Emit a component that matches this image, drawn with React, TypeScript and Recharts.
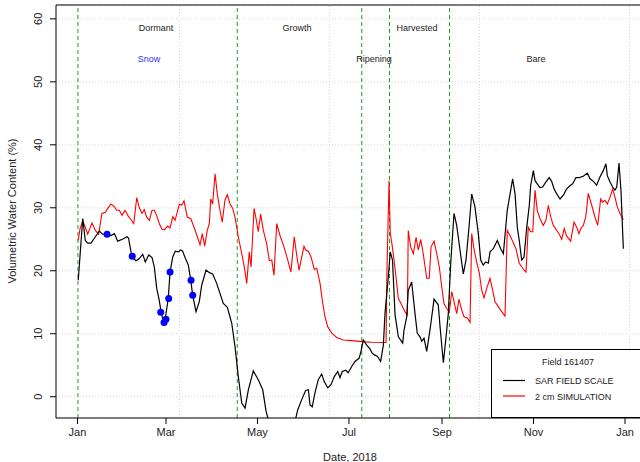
import React from "react";
import {
  ComposedChart,
  Line,
  Scatter,
  XAxis,
  YAxis,
  CartesianGrid,
  ReferenceLine
} from "recharts";

// day of year 2018 (0 = Jan 1) and volumetric water content (%)
const SAR_DAYS = [
  0.5, 3.5, 5.2, 6.8, 9, 11.9, 14.5, 16.8, 19.5, 22.3, 24.6, 26.8, 30, 33, 34, 36.3, 39, 41, 43.5, 45.2,
  47.5, 49.7, 51.2, 52.8, 54.5, 55.7, 57.2, 58.5, 60.5, 61.7, 63.5, 65.2, 67.2, 68.8, 70.1, 71.7, 73.9,
  75.5, 76.8, 79, 81.2, 82.8, 85.7, 87.9, 90.1, 92.8, 95, 97.2, 99.9, 102.8, 105, 107.2, 109.5, 111.7,
  113.9, 117.2, 120.5, 123.5, 125.7, 131, 137, 143, 146.8, 149.4, 152.1, 153.9, 155, 156.5, 158.3,
  160.5, 162.8, 164.5, 166.8, 169, 171.2, 173.5, 175, 176.5, 178.8, 180.5, 182.8, 185, 187.7, 189,
  190.5, 192.8, 195, 196.5, 198.3, 200, 202.1, 203.9, 205, 207.2, 208.5, 210, 211.7, 213.9, 216.8,
  217.7, 219.5, 220.5, 222.8, 225, 226.5, 228.3, 229.5, 231, 232.8, 235, 237.7, 240.5, 241.7, 243.9,
  245.7, 247.2, 248.8, 251, 252.8, 255, 257.2, 259, 261, 262.8, 265, 267.2, 268.8, 270.5, 272.1, 273.9,
  275, 277.2, 279.9, 282.1, 283.9, 286.5, 290.1, 291.7, 293.2, 294.5, 296.1, 297.7, 299.5, 301.2,
  302.1, 303.9, 305, 306.5, 308.3, 310.1, 312.3, 314.5, 316.1, 317.7, 319.5, 321.7, 323.9, 326.1,
  328.3, 330.1, 332.3, 334.5, 337.2, 339.9, 341.7, 343.9, 346.1, 348.3, 350.5, 352.3, 353.2, 355,
  356.8, 358.3, 359.5, 361, 362.3, 363.9
];
const SAR_VWC = [
  18.5, 28.3, 24.8, 24.4, 24.4, 25.4, 26.3, 25.8, 25.8, 25.6, 25.9, 24.7, 25.0, 25.4, 25.2, 22.2, 21.6, 21.9, 22.6, 21.4,
  22.5, 22.1, 20.6, 17.2, 15.3, 13.5, 11.9, 12.4, 15.6, 19.8, 22.2, 23.1, 23.0, 23.3, 23.1, 22.1, 20.9,
  18.5, 16.1, 13.5, 15.1, 17.7, 20.1, 19.7, 19.5, 18.0, 16.4, 14.8, 14.2, 11.7, 8.0, 3.2, -1.0, -1.8,
  1.1, 4.1, 2.7, 1.1, -2.3, -7, -9, -6, -2.1, -0.5, 1.0, 1.1, -1.3, -1.6, 0.6,
  2.7, 3.6, 2.4, 1.4, 1.9, 3.2, 4.0, 3.0, 4.0, 4.2, 3.8, 4.8, 5.6, 6.1, 7.2,
  9.0, 8.2, 7.6, 6.9, 6.6, 6.4, 5.6, 8.2, 13.2, 19.0, 23.0, 21.7, 13.0, 9.5, 8.5,
  10.6, 12.7, 16.9, 18.2, 13.2, 10.1, 9.5, 8.8, 9.3, 7.2, 10.6, 15.5, 14.6, 11.1, 5.4,
  9.5, 13.2, 21.2, 29.1, 27.2, 23.3, 19.5, 21.7, 26.9, 32.2, 30.1, 25.9, 21.7, 20.9, 21.4, 21.2,
  23.0, 23.5, 24.8, 23.5, 22.7, 29.6, 34.6, 32.2, 26.9, 24.8, 21.7, 22.2, 26.9, 30.4,
  33.5, 35.9, 34.3, 33.8, 33.2, 33.3, 34.1, 34.8, 34.2, 33.0, 32.2, 31.4, 32.0, 33.0,
  33.5, 33.8, 34.8, 34.8, 35.0, 35.5, 34.6, 34.2, 33.6, 34.9, 35.9, 37.0, 35.1, 34.1,
  33.3, 32.8, 33.3, 37.1, 32.8, 23.5
];

const SIM_DAYS = [
  0.5, 1.7, 3.5, 5.2, 6.8, 9.7, 11.9, 14.1, 16.3, 18.5, 20.8, 22.3, 24.5, 26.1, 27.9, 29.7, 31.7, 33.5,
  35.7, 37.5, 39.5, 41.2, 43, 44.5, 46.1, 47.9, 49.7, 51.2, 52.8, 54.5, 56.3, 57.9, 60.1, 61.7, 63.5,
  65, 66.5, 67.9, 69.5, 71, 73.2, 75.5, 77.7, 79.9, 81.7, 83.2, 84.8, 86.5, 87.9, 88.8, 90.1, 91.7,
  93.2, 95, 96.5, 98.3, 99.9, 101.7, 103.5, 105, 107.2, 109.5, 111, 112.8, 114.5, 115.7, 117.7, 119.5,
  120.5, 122.1, 123.9, 126.1, 127.9, 129.5, 131, 132.8, 135, 137.2, 139.5, 142.3, 144.5, 146.1, 147.7,
  149.5, 151, 152.1, 153.9, 155.7, 157.9, 159.5, 161.7, 163.2, 165, 166.8, 169.5, 172.8, 177.2, 182.8,
  189.5, 196.1, 205.7, 206.3, 207.7, 208.5, 209.9, 211.7, 213.9, 216.1, 218.3, 219.9, 220.5, 222.1,
  223.9, 225.7, 227.2, 228.8, 230.5, 232.8, 234.5, 235.7, 237.7, 239.5, 241.2, 242.8, 244.3, 246.1,
  247.9, 249.5, 251, 252.8, 254.3, 256.1, 257.7, 259.9, 261.7, 262.8, 264.3, 266.1, 267.9, 269.5, 271,
  272.8, 275, 276.8, 278.3, 280.5, 282.8, 285, 286.5, 288.3, 290.1, 292.3, 294.5, 296.8, 299, 300.5,
  302.1, 303.5, 305, 306.5, 308.3, 310.5, 312.3, 313.9, 315.5, 317.2, 319.5, 321.2, 322.8, 324.5,
  326.1, 328.8, 331, 332.8, 334.3, 335.7, 337.2, 338.8, 340.5, 342.8, 345, 346.8, 348.8, 350.1, 351.7,
  353.2, 355, 356.8, 358.3, 359.9, 361.7, 363.9
];
const SIM_VWC = [
  24.8, 26.7, 27.9, 26.9, 25.8, 27.6, 26.4, 25.8, 29.1, 29.3, 30.1, 30.6, 30.2, 29.6, 29.6, 28.8, 29.6, 28.8,
  28.1, 27.5, 31.6, 30.0, 29.1, 29.7, 28.5, 28.0, 29.6, 29.6, 28.8, 27.5, 26.6, 26.5, 27.1, 26.8, 28.6,
  28.0, 29.3, 30.6, 30.4, 31.1, 28.5, 28.3, 26.9, 25.4, 24.1, 25.9, 23.9, 26.4, 27.5, 31.4, 30.6, 35.4,
  32.2, 29.6, 27.7, 31.2, 32.1, 30.6, 29.9, 28.5, 25.4, 22.7, 20.9, 18.0, 23.0, 20.6, 29.9, 27.7,
  26.2, 29.0, 26.4, 24.3, 21.6, 21.7, 19.3, 27.5, 25.6, 24.1, 22.3, 19.8, 25.4, 22.5, 20.1,
  22.2, 23.9, 23.3, 23.1, 22.2, 20.2, 20.4, 18.0, 15.3, 12.7, 11.1, 10.1, 9.4, 9.0, 8.9,
  8.75, 8.65, 8.6, 20.1, 34.3, 26.0, 23.8, 20.4, 15.6, 14.6, 13.5, 13.0, 26.4, 23.8,
  22.7, 25.3, 23.3, 25.0, 22.7, 18.8, 18.8, 23.8, 24.7, 22.7, 20.6, 17.5, 14.8, 14.0,
  13.5, 16.7, 15.1, 13.2, 15.5, 13.8, 12.7, 12.5, 11.8, 25.9, 23.5, 21.4, 19.6, 16.9, 15.7,
  17.2, 18.8, 16.9, 15.1, 14.3, 13.5, 12.8, 26.4, 25.6, 24.7, 23.5, 21.2, 20.4, 19.8, 26.9,
  26.2, 26.2, 32.8, 29.6, 28.3, 27.2, 28.0, 30.4, 28.5, 27.2, 26.4, 25.8, 25.0, 26.7,
  25.5, 24.7, 27.7, 26.9, 25.9, 26.8, 27.2, 28.5, 32.3, 30.4, 28.5, 27.2, 31.4, 30.9, 31.2,
  30.6, 31.7, 33.0, 31.7, 30.1, 29.1, 28.1
];

const SNOW_DAYS = [19.7, 36.5, 55.5, 57.7, 59, 60.8, 61.7, 75.7, 76.8];
const SNOW_VWC = [25.8, 22.3, 13.4, 11.8, 12.3, 15.6, 19.8, 18.5, 16.1];

const MONTH_TICKS = [0, 59, 120, 181, 243, 304, 365];
const MONTH_LABELS = ["Jan", "Mar", "May", "Jul", "Sep", "Nov", "Jan"];
const Y_TICKS = [0, 10, 20, 30, 40, 50, 60];
const PHASE_DAYS = [0.3, 106.5, 189.5, 208, 248];
const GRID_DAYS = [68, 168, 268, 368];

const X_DOMAIN: [number, number] = [-14.33, 378.33];
const Y_DOMAIN: [number, number] = [-3.38, 62.2];

const sarData = SAR_DAYS.map((day, i) => ({ day, vwc: SAR_VWC[i] }));
const simData = SIM_DAYS.map((day, i) => ({ day, vwc: SIM_VWC[i] }));
const snowData = SNOW_DAYS.map((day, i) => ({ day, vwc: SNOW_VWC[i] }));

const FONT = "'Liberation Sans', Arial, Helvetica, sans-serif";
const GREEN = "#1f9e1f";

const XTick = ({ x, payload }: any) => (
  <text x={x} y={436} textAnchor="middle" fontSize={11} fontFamily={FONT} fill="#222">
    {MONTH_LABELS[MONTH_TICKS.indexOf(payload.value)]}
  </text>
);

const YTick = ({ y, payload }: any) => (
  <text
    x={42}
    y={y}
    transform={`rotate(-90, 42, ${y})`}
    textAnchor="middle"
    fontSize={11}
    fontFamily={FONT}
    fill="#222"
  >
    {payload.value}
  </text>
);

const phaseLabels = [
  { text: "Dormant", x: 156, y: 31, color: "#222" },
  { text: "Growth", x: 297, y: 31, color: "#222" },
  { text: "Harvested", x: 417, y: 31, color: "#222" },
  { text: "Snow", x: 149, y: 62, color: "#3333ff" },
  { text: "Ripening", x: 374, y: 62, color: "#222" },
  { text: "Bare", x: 536, y: 62, color: "#222" }
];

const App = () => {
  return (
    <div
      style={{
        position: "fixed",
        left: 0,
        top: 0,
        width: 640,
        height: 462,
        overflow: "hidden",
        background: "#fff"
      }}
    >
      <ComposedChart width={660} height={462} margin={{ top: 5, right: 15, bottom: 0, left: 0 }}>
        <CartesianGrid vertical={false} stroke="#d4d4d4" strokeDasharray="1 2" />
        {GRID_DAYS.map((d) => (
          <ReferenceLine key={`g${d}`} x={d} stroke="#d4d4d4" strokeDasharray="1 2" />
        ))}
        <XAxis
          type="number"
          dataKey="day"
          domain={X_DOMAIN}
          allowDataOverflow
          ticks={MONTH_TICKS}
          tick={<XTick />}
          tickSize={6}
          height={44}
          stroke="#000"
        />
        <YAxis
          type="number"
          dataKey="vwc"
          domain={Y_DOMAIN}
          allowDataOverflow
          ticks={Y_TICKS}
          tick={<YTick />}
          tickSize={6}
          width={56}
          stroke="#000"
        />
        <ReferenceLine y={Y_DOMAIN[1]} stroke="#000" />
        {PHASE_DAYS.map((d) => (
          <ReferenceLine key={`p${d}`} x={d} stroke={GREEN} strokeDasharray="4 3" />
        ))}
        <Line
          data={simData}
          dataKey="vwc"
          type="linear"
          stroke="#ff0000"
          strokeWidth={1.1}
          dot={false}
          isAnimationActive={false}
        />
        <Line
          data={sarData}
          dataKey="vwc"
          type="linear"
          stroke="#000"
          strokeWidth={1.2}
          dot={false}
          isAnimationActive={false}
        />
        <Scatter
          data={snowData}
          dataKey="vwc"
          fill="#0000ff"
          shape={(p: any) => <circle cx={p.cx} cy={p.cy} r={3.5} fill="#0000ff" />}
          isAnimationActive={false}
        />
      </ComposedChart>

      <svg
        width={640}
        height={462}
        style={{ position: "absolute", left: 0, top: 0, pointerEvents: "none" }}
      >
        {phaseLabels.map((l) => (
          <text key={l.text} x={l.x} y={l.y} textAnchor="middle" fontSize={9} fontFamily={FONT} fill={l.color}>
            {l.text}
          </text>
        ))}
        <text
          x={16}
          y={211}
          transform="rotate(-90, 16, 211)"
          textAnchor="middle"
          fontSize={11}
          fontFamily={FONT}
          fill="#222"
        >
          Volumetric Water Content (%)
        </text>
        <text x={350} y={461} textAnchor="middle" fontSize={11} fontFamily={FONT} fill="#222">
          Date, 2018
        </text>

        <rect x={491.5} y={349.5} width={160} height={68} fill="#fff" stroke="#000" strokeWidth={1} />
        <text x={568} y={365} textAnchor="middle" fontSize={9} fontFamily={FONT} fill="#222">
          Field 161407
        </text>
        <line x1={503} x2={525} y1={380.5} y2={380.5} stroke="#000" strokeWidth={1.2} />
        <text x={535} y={384} fontSize={9} fontFamily={FONT} fill="#222">
          SAR FIELD SCALE
        </text>
        <line x1={503} x2={525} y1={396} y2={396} stroke="#ff0000" strokeWidth={1.2} />
        <text x={535} y={399.5} fontSize={9} fontFamily={FONT} fill="#222">
          2 cm SIMULATION
        </text>
      </svg>
    </div>
  );
};

export default App;
